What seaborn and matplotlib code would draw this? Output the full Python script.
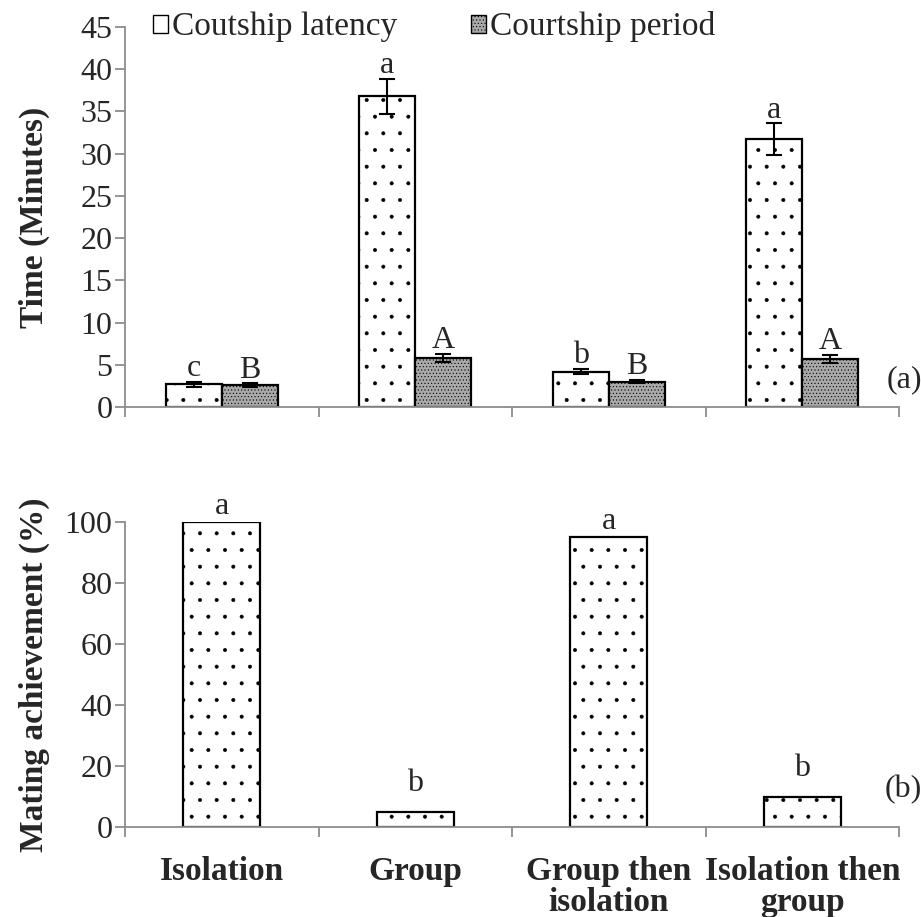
import numpy as np
import pandas as pd
import matplotlib
matplotlib.use("Agg")
import matplotlib.pyplot as plt
from matplotlib.patches import Patch
from matplotlib.ticker import FixedLocator, NullFormatter
import seaborn as sns

# ---- data ----
treatments = ["Isolation", "Group", "Group then isolation", "Isolation then group"]
tick_labels = ["Isolation", "Group", "Group then\nisolation", "Isolation then\ngroup"]
measures = ["Coutship latency", "Courtship period"]
latency = [2.7, 36.8, 4.2, 31.7]
latency_err = [0.3, 2.1, 0.3, 1.9]
period = [2.6, 5.8, 3.0, 5.7]
period_err = [0.2, 0.5, 0.2, 0.5]
latency_letters = ["c", "a", "b", "a"]
period_letters = ["B", "A", "B", "A"]
mating = [100, 5, 95, 10]
mating_letters = ["a", "b", "a", "b"]

sns.set_theme(style="white")
plt.rcParams["font.family"] = ["Liberation Serif", "DejaVu Serif"]
plt.rcParams["hatch.linewidth"] = 0.4
plt.rcParams["hatch.color"] = "#5a5a5a"

FS = 23
FSL = 24
SPINE = "#8c8c8c"
PERIOD_FACE = "#a9a9a9"

fig = plt.figure(figsize=(9.21, 9.17), dpi=100)
W, H = 921, 917
ax1 = fig.add_axes([125 / W, 1 - 407 / H, (899 - 125) / W, (407 - 27) / H])
ax2 = fig.add_axes([125 / W, 1 - 827 / H, (899 - 125) / W, (827 - 522) / H])

# ---- top chart ----
df_top = pd.DataFrame({
    "treatment": treatments * 2,
    "measure": [measures[0]] * 4 + [measures[1]] * 4,
    "value": latency + period,
})
sns.barplot(data=df_top, x="treatment", y="value", hue="measure", order=treatments,
            hue_order=measures, palette=["white", PERIOD_FACE], width=0.58, ax=ax1,
            edgecolor="black", linewidth=1.6, errorbar=None, legend=False, saturation=1)
hatches = [".", "....."]
errs = [latency_err, period_err]
vals = [latency, period]
letters = [latency_letters, period_letters]
bar_containers = list(ax1.containers)
for ci, cont in enumerate(bar_containers):
    xs = []
    for p in cont:
        p.set_hatch(hatches[ci])
        xs.append(p.get_x() + p.get_width() / 2)
    ax1.errorbar(xs, vals[ci], yerr=errs[ci], fmt="none", ecolor="black",
                 elinewidth=1.5, capsize=5.5, capthick=1.5, zorder=5)
    for x, v, e, t in zip(xs, vals[ci], errs[ci], letters[ci]):
        ax1.annotate(t, (x, v + e), xytext=(0, -1), textcoords="offset points",
                     ha="center", va="bottom", fontsize=FS)

ax1.set_ylim(0, 45)
ax1.set_yticks(np.arange(0, 46, 5))
ax1.set_xlim(-0.5, 3.5)
ax1.set_xlabel("")
ax1.set_ylabel("Time (Minutes)", fontsize=FSL, fontweight="bold")
ax1.yaxis.set_label_coords(-0.097, 0.5)
ax1.text(3.53, 3.2, "(a)", fontsize=FS, ha="center", va="center", clip_on=False)

legend_handles = [
    Patch(facecolor="white", edgecolor="black", hatch="", linewidth=1.0),
    Patch(facecolor=PERIOD_FACE, edgecolor="black", hatch=".....", linewidth=1.0),
]
fig.legend(legend_handles, measures, loc="center left",
           bbox_to_anchor=(153 / W, 1 - 27 / H), ncol=2, frameon=False,
           fontsize=24, handlelength=0.45, handleheight=0.45, handletextpad=0.12,
           columnspacing=2.2, borderaxespad=0, borderpad=0)

# ---- bottom chart ----
df_bot = pd.DataFrame({"treatment": treatments, "value": mating})
sns.barplot(data=df_bot, x="treatment", y="value", order=treatments, color="white",
            width=0.4, ax=ax2, edgecolor="black", linewidth=1.6, errorbar=None, saturation=1)
offsets = [1, 10, 1, 10]
for p, v, t, off in zip(list(ax2.containers[0]), mating, mating_letters, offsets):
    p.set_hatch(".")
    x = p.get_x() + p.get_width() / 2
    ax2.annotate(t, (x, v), xytext=(0, off), textcoords="offset points",
                 ha="center", va="bottom", fontsize=FS, annotation_clip=False)

ax2.set_ylim(0, 100)
ax2.set_yticks(np.arange(0, 101, 20))
ax2.set_xlim(-0.5, 3.5)
ax2.set_xlabel("")
ax2.set_ylabel("Mating achievement (%)", fontsize=FSL, fontweight="bold")
ax2.yaxis.set_label_coords(-0.097, 0.5)
ax2.text(3.52, 12.2, "(b)", fontsize=FS, ha="center", va="center", clip_on=False)

for ax in (ax1, ax2):
    # tick marks sit on the category boundaries
    ax.xaxis.set_major_locator(FixedLocator(np.arange(-0.5, 3.6, 1.0)))
    ax.xaxis.set_major_formatter(NullFormatter())
    for s in ("top", "right"):
        ax.spines[s].set_visible(False)
    for s in ("left", "bottom"):
        ax.spines[s].set_color(SPINE)
        ax.spines[s].set_linewidth(1.3)
    ax.tick_params(axis="y", which="major", direction="out", length=7, width=1.3,
                   color=SPINE, labelsize=FS, pad=2, left=True)
    ax.tick_params(axis="x", which="major", direction="out", length=7, width=1.3,
                   color=SPINE, bottom=True)
    ax.grid(False)

# category names centred under each category
for i, lab in enumerate(tick_labels):
    ax2.annotate(lab, xy=(i, 0), xycoords=("data", "axes fraction"),
                 xytext=(0, -21), textcoords="offset points", ha="center", va="top",
                 fontsize=FSL, fontweight="bold", linespacing=1.0,
                 annotation_clip=False)

fig.savefig("out.png", dpi=100, facecolor="white")
